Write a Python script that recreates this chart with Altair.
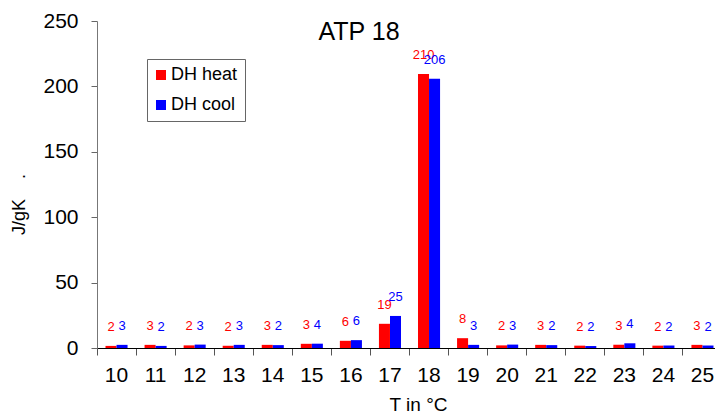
import altair as alt
import pandas as pd

temps = ["10", "11", "12", "13", "14", "15", "16", "17", "18", "19", "20", "21", "22", "23", "24", "25"]
series_names = ["DH heat", "DH cool"]
heat_values = [1.6, 2.4, 2.0, 1.7, 2.4, 3.2, 5.5, 18.5, 209.5, 7.5, 2.0, 2.4, 1.8, 2.5, 1.8, 2.4]
cool_values = [2.4, 1.6, 2.6, 2.4, 2.2, 3.3, 6.0, 24.5, 205.8, 2.4, 2.6, 2.2, 1.5, 3.6, 1.9, 1.9]
heat_labels = ["2", "3", "2", "2", "3", "3", "6", "19", "210", "8", "2", "3", "2", "3", "2", "3"]
cool_labels = ["3", "2", "3", "3", "2", "4", "6", "25", "206", "3", "3", "2", "2", "4", "2", "2"]
y_ticks = [0, 50, 100, 150, 200, 250]
colors = ["#ff0000", "#0000ff"]

rows = []
for t, hv, hl in zip(temps, heat_values, heat_labels):
    rows.append({"T": t, "series": series_names[0], "value": hv, "label": hl})
for t, cv, cl in zip(temps, cool_values, cool_labels):
    rows.append({"T": t, "series": series_names[1], "value": cv, "label": cl})
df = pd.DataFrame(rows)

FONT = "Liberation Sans"

# the band range runs slightly past the visible plot edge, as in the reference
x_scale = alt.Scale(type="band", paddingInner=0, paddingOuter=0, range=[0, 625])
x_axis = alt.Axis(
    title="T in °C",
    titleFont=FONT,
    titleFontSize=19,
    titleFontWeight="normal",
    titleColor="#000",
    titleX=321,
    titleY=62,
    titleAlign="center",
    titleBaseline="alphabetic",
    labelFont=FONT,
    labelFontSize=21,
    labelColor="#000",
    labelAngle=0,
    labelPadding=9,
    bandPosition=0,
    tickSize=7,
    tickColor="#555",
    domainColor="#000",
    grid=False,
)
xoff = alt.XOffset("series:N", sort=series_names,
                   scale=alt.Scale(type="band", paddingOuter=0.77, paddingInner=0))
y_enc = alt.Y(
    "value:Q",
    scale=alt.Scale(domain=[0, 250], nice=False),
    axis=alt.Axis(
        values=y_ticks,
        title="J/gK\u00a0\u00a0\u00a0\u00a0.",
        titleFont=FONT,
        titleFontSize=18,
        titleFontWeight="normal",
        titleColor="#000",
        titleAngle=270,
        titleX=-73,
        titleY=183,
        titleAlign="center",
        titleBaseline="alphabetic",
        labelFont=FONT,
        labelFontSize=21,
        labelColor="#000",
        labelPadding=13,
        tickSize=6,
        tickColor="#666",
        domainColor="#777",
        grid=False,
    ),
)

bars = alt.Chart(df).mark_bar().encode(
    x=alt.X("T:N", sort=temps, scale=x_scale, axis=x_axis),
    xOffset=xoff,
    y=y_enc,
    color=alt.Color(
        "series:N",
        sort=series_names,
        scale=alt.Scale(domain=series_names, range=colors),
        legend=alt.Legend(
            title=None,
            orient="none",
            legendX=50,
            legendY=38,
            padding=7,
            strokeColor="#666",
            fillColor="white",
            symbolType="square",
            symbolSize=100,
            symbolStrokeWidth=0,
            symbolOpacity=1,
            symbolOffset=-2,
            labelFont=FONT,
            labelFontSize=18,
            labelColor="#000",
            labelOffset=1,
            rowPadding=12,
        ),
    ),
)

labels = alt.Chart(df).mark_text(font=FONT, fontSize=13, baseline="middle", dy=-19).encode(
    x=alt.X("T:N", sort=temps, scale=x_scale, axis=x_axis),
    xOffset=xoff,
    y=alt.Y("value:Q"),
    text="label:N",
    color=alt.Color("series:N", sort=series_names,
                    scale=alt.Scale(domain=series_names, range=colors), legend=None),
)

title = alt.Chart(alt.Data(values=[{"t": "ATP 18"}])).mark_text(
    font=FONT, fontSize=25, baseline="alphabetic", align="center", color="#000"
).encode(text="t:N", x=alt.value(262), y=alt.value(18.5))

chart = alt.layer(bars, labels, title).resolve_scale(color="independent").properties(
    width=618,
    height=327,
    autosize=alt.AutoSizeParams(type="none"),
    padding={"left": 89, "top": 13, "right": 0, "bottom": 66},
).configure_view(stroke=None).configure_scale(bandPaddingInner=0, bandPaddingOuter=0)

chart.save("out.html", embed_options={"renderer": "svg", "actions": False})
